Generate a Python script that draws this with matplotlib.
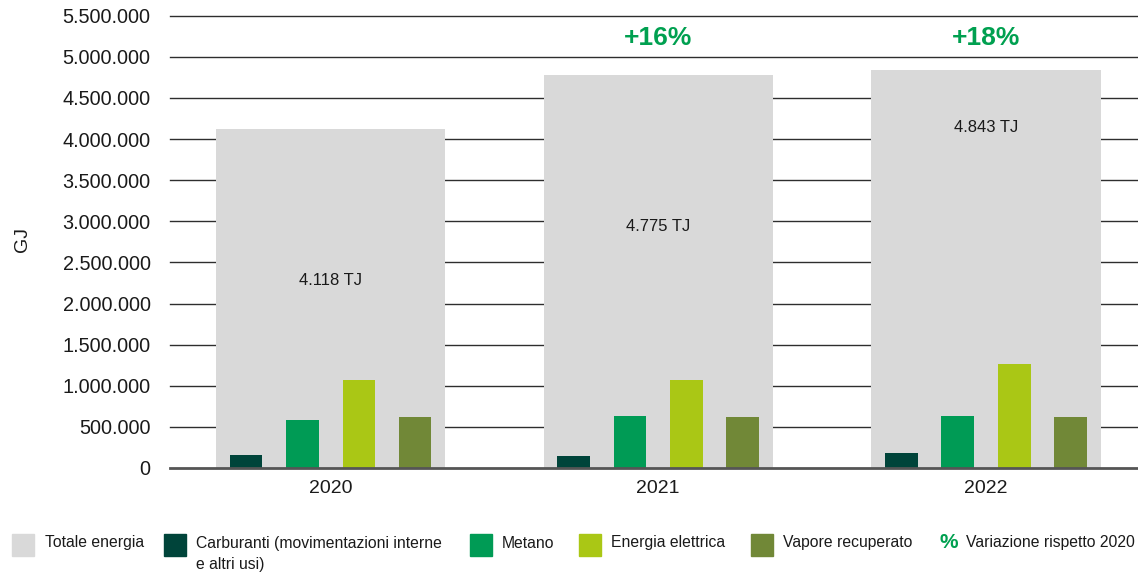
import numpy as np
import matplotlib
matplotlib.use("Agg")
import matplotlib.pyplot as plt
from matplotlib.patches import Rectangle

plt.rcParams['font.family'] = ['Liberation Sans', 'DejaVu Sans']

# --- data (GJ) ---
anni = ['2020', '2021', '2022']
totale = [4118000, 4775000, 4843000]
carburanti = [158000, 142000, 182000]
metano = [584000, 633000, 633000]
energia_elettrica = [1071000, 1070000, 1265000]
vapore = [620000, 620000, 620000]
totale_label = ['4.118 TJ', '4.775 TJ', '4.843 TJ']
variazione = ['', '+16%', '+18%']

y_ticks = list(range(0, 5500001, 500000))
y_tick_labels = ['0', '500.000', '1.000.000', '1.500.000', '2.000.000', '2.500.000',
                 '3.000.000', '3.500.000', '4.000.000', '4.500.000', '5.000.000', '5.500.000']

# where the TJ labels sit inside the grey bars
label_y = [2285000, 2933000, 4137000]
pct_y = 5231000

GREY = '#d9d9d9'
C_CARB = '#00443a'
C_MET = '#009b55'
C_EL = '#aac715'
C_VAP = '#718837'
C_PCT = '#00a050'
TXT = '#1a1a1a'

fig = plt.figure(figsize=(11.38, 5.72), dpi=100)
ax = fig.add_axes([0.14938, 0.18182, 0.85062, 0.79073])

x = np.arange(len(anni))

# horizontal grid lines behind the bars
for t in y_ticks[1:]:
    ax.axhline(t, color='#2e2e2e', lw=1.0, zorder=0, clip_on=False)

ax.bar(x, totale, width=0.7, color=GREY, zorder=1)

series = [carburanti, metano, energia_elettrica, vapore]
colors = [C_CARB, C_MET, C_EL, C_VAP]
offsets = [-0.258, -0.086, 0.087, 0.258]
for vals, col, off in zip(series, colors, offsets):
    ax.bar(x + off, vals, width=0.1, color=col, zorder=2)

ax.axhline(0, color='#555555', lw=2.0, zorder=3, clip_on=False)

for i in range(len(anni)):
    ax.text(x[i], label_y[i], totale_label[i], ha='center', va='center',
            fontsize=12, color=TXT, zorder=4)
    if variazione[i]:
        ax.text(x[i], pct_y, variazione[i], ha='center', va='center',
                fontsize=19, fontweight='bold', color=C_PCT, zorder=4)

ax.set_xlim(-0.4897, 2.4638)
ax.set_ylim(0, 5500000)
ax.set_xticks(x)
ax.set_xticklabels(anni, fontsize=14, color=TXT)
ax.set_yticks(y_ticks)
ax.set_yticklabels(y_tick_labels, fontsize=14.3, color=TXT)
ax.tick_params(axis='both', length=0)
ax.tick_params(axis='y', pad=14)
ax.tick_params(axis='x', pad=9)
for s in ax.spines.values():
    s.set_visible(False)

fig.text(22 / 1138, 1 - 240 / 572, 'GJ', rotation=90, ha='center', va='center',
         fontsize=14, color=TXT)

# legend along the bottom
legend_items = [
    ('Totale energia', GREY, 12, 45),
    ('Carburanti (movimentazioni interne\ne altri usi)', C_CARB, 164, 196),
    ('Metano', C_MET, 470, 502),
    ('Energia elettrica', C_EL, 579, 611),
    ('Vapore recuperato', C_VAP, 751, 783),
]
W, H = 1138, 572
for label, col, sx, tx in legend_items:
    fig.patches.append(Rectangle((sx / W, 1 - 556 / H), 22 / W, 22 / H,
                                 transform=fig.transFigure, color=col))
    if '\n' in label:
        fig.text(tx / W, 1 - 554 / H, label, ha='left', va='center',
                 fontsize=11.3, color=TXT, linespacing=1.55)
    else:
        fig.text(tx / W, 1 - 543 / H, label, ha='left', va='center',
                 fontsize=11.3, color=TXT)

fig.text(940 / W, 1 - 542 / H, '%', ha='left', va='center', fontsize=15,
         fontweight='bold', color=C_PCT)
fig.text(966 / W, 1 - 543 / H, 'Variazione rispetto 2020', ha='left', va='center',
         fontsize=11.3, color=TXT)

fig.savefig('out.png', dpi=100)
